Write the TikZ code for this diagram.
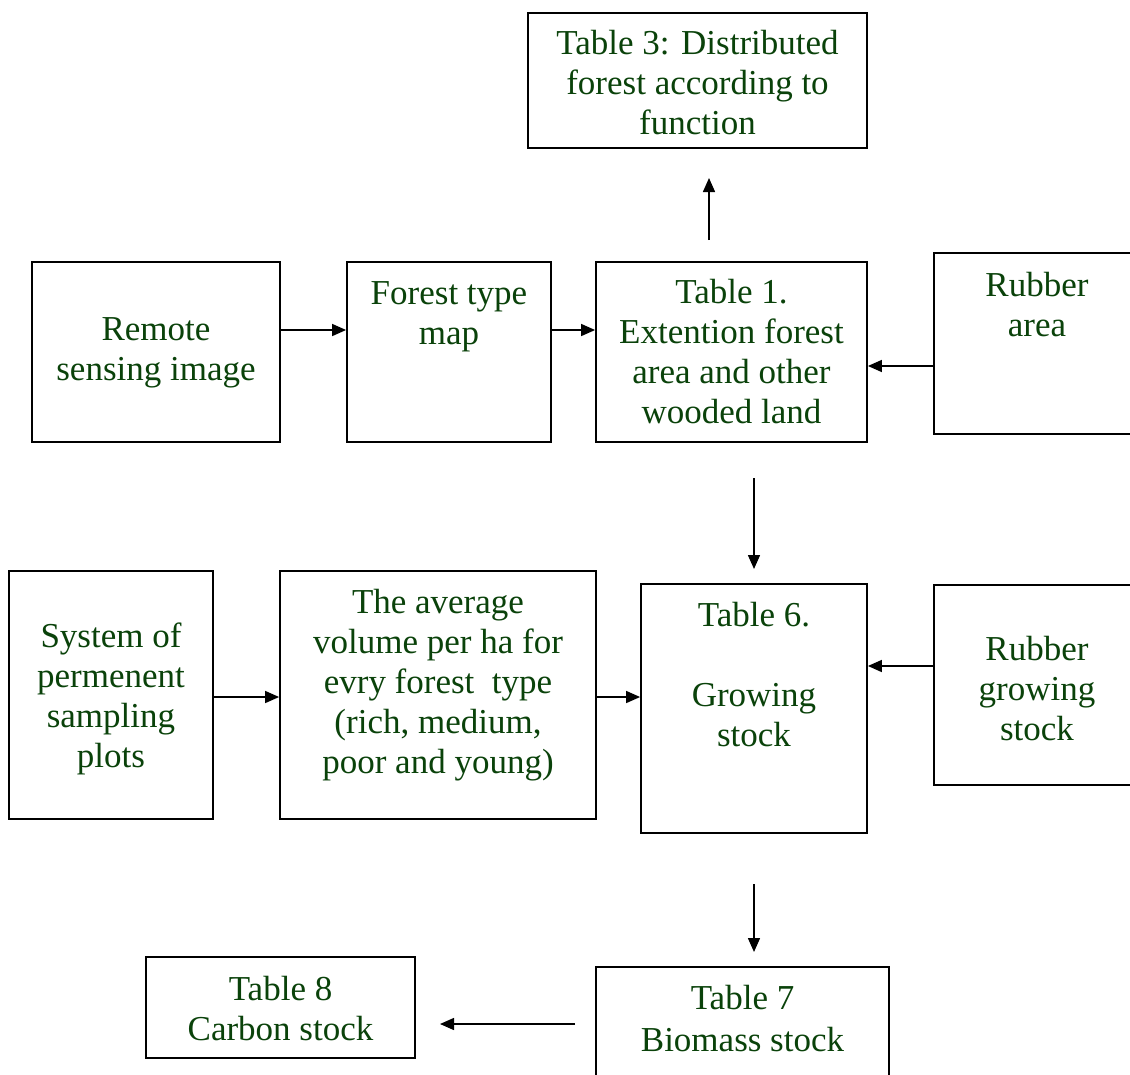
\documentclass[tikz,border=0pt]{standalone}
\usepackage{fontspec}
\setmainfont{Liberation Serif}
\usetikzlibrary{arrows.meta}
\definecolor{tgreen}{RGB}{10,66,10}
\begin{document}
\begin{tikzpicture}[x=1pt,y=-1pt,
  box/.style={draw, line width=1.8pt, inner sep=0pt, minimum width=#1},
  txt/.style={inner sep=0pt, anchor=base, align=center, text=tgreen,
    font=\fontsize{35}{40}\selectfont},
  arr/.style={line width=1.5pt, -{Triangle[length=14pt,width=12pt]}}]
\useasboundingbox (0,0) rectangle (1130,1074);
% boxes
\node[box=339pt, minimum height=135pt] (t3)  at (697.5,80.5) {};
\node[box=248pt, minimum height=180pt] (rs)  at (156,352) {};
\node[box=204pt, minimum height=180pt] (ftm) at (449,352) {};
\node[box=271pt, minimum height=180pt] (t1)  at (731.5,352) {};
\node[box=206pt, minimum height=181pt] (ra)  at (1037,343.5) {};
\node[box=204pt, minimum height=248pt] (sys) at (111,695) {};
\node[box=316pt, minimum height=248pt] (avg) at (438,695) {};
\node[box=226pt, minimum height=249pt] (t6)  at (754,708.5) {};
\node[box=206pt, minimum height=200pt] (rgs) at (1037,685) {};
\node[box=269pt, minimum height=101pt] (t8)  at (280.5,1007.5) {};
\node[box=293pt, minimum height=118pt] (t7)  at (742.5,1026) {};
% texts (anchored at the baseline of their last line)
\node[txt] (t3l)  at (697.5,134) {Table 3: Distributed\\forest according to\\function};
\node[txt] (rsl)  at (156,380)   {Remote\\sensing image};
\node[txt] (ftml) at (449,344)   {Forest type\\map};
\node[txt] (t1l)  at (731.5,423) {Table 1.\\Extention forest\\area and other\\wooded land};
\node[txt] (ral)  at (1037,336)  {Rubber\\area};
\node[txt] (sysl) at (111,767)   {System of\\permenent\\sampling\\plots};
\node[txt] (avgl) at (438,773)   {The average\\volume per ha for\\evry forest\ \ type\\(rich, medium,\\poor and young)};
\node[txt] (t6l)  at (754,746)   {Table 6.\\[40pt]Growing\\stock};
\node[txt] (rgsl) at (1037,740)  {Rubber\\growing\\stock};
\node[txt] (t8l)  at (280.5,1040) {Table 8\\Carbon stock};
\node[txt] (t7l)  at (742.5,1051) {Table 7\\[2pt]Biomass stock};
% free-ended connector points
\coordinate (upS) at (709,240);
\coordinate (upE) at (709,178);
\coordinate (d1S) at (754,478);
\coordinate (d1E) at (754,569);
\coordinate (d2S) at (754,884);
\coordinate (d2E) at (754,952);
\coordinate (lS)  at (575,1024);
\coordinate (lE)  at (440,1024);
% connectors
\draw[arr] ([yshift=22pt]rs.east) -- ([yshift=22pt]ftm.west);
\draw[arr] ([yshift=22pt]ftm.west -| ftm.east) -- ([yshift=22pt]ftm.west -| t1.west);
\draw[arr] ([yshift=-22.5pt]ra.west) -- ([yshift=-22.5pt]ra.west -| t1.east);
\draw[arr] ([yshift=-2pt]sys.east) -- ([yshift=-2pt]avg.west);
\draw[arr] ([yshift=-2pt]avg.east) -- ([yshift=-2pt]avg.east -| t6.west);
\draw[arr] ([yshift=19pt]rgs.west) -- ([yshift=19pt]rgs.west -| t6.east);
\draw[arr] (upS) -- (upE);
\draw[arr] (d1S) -- (d1E);
\draw[arr] (d2S) -- (d2E);
\draw[arr] (lS) -- (lE);
\end{tikzpicture}
\end{document}
